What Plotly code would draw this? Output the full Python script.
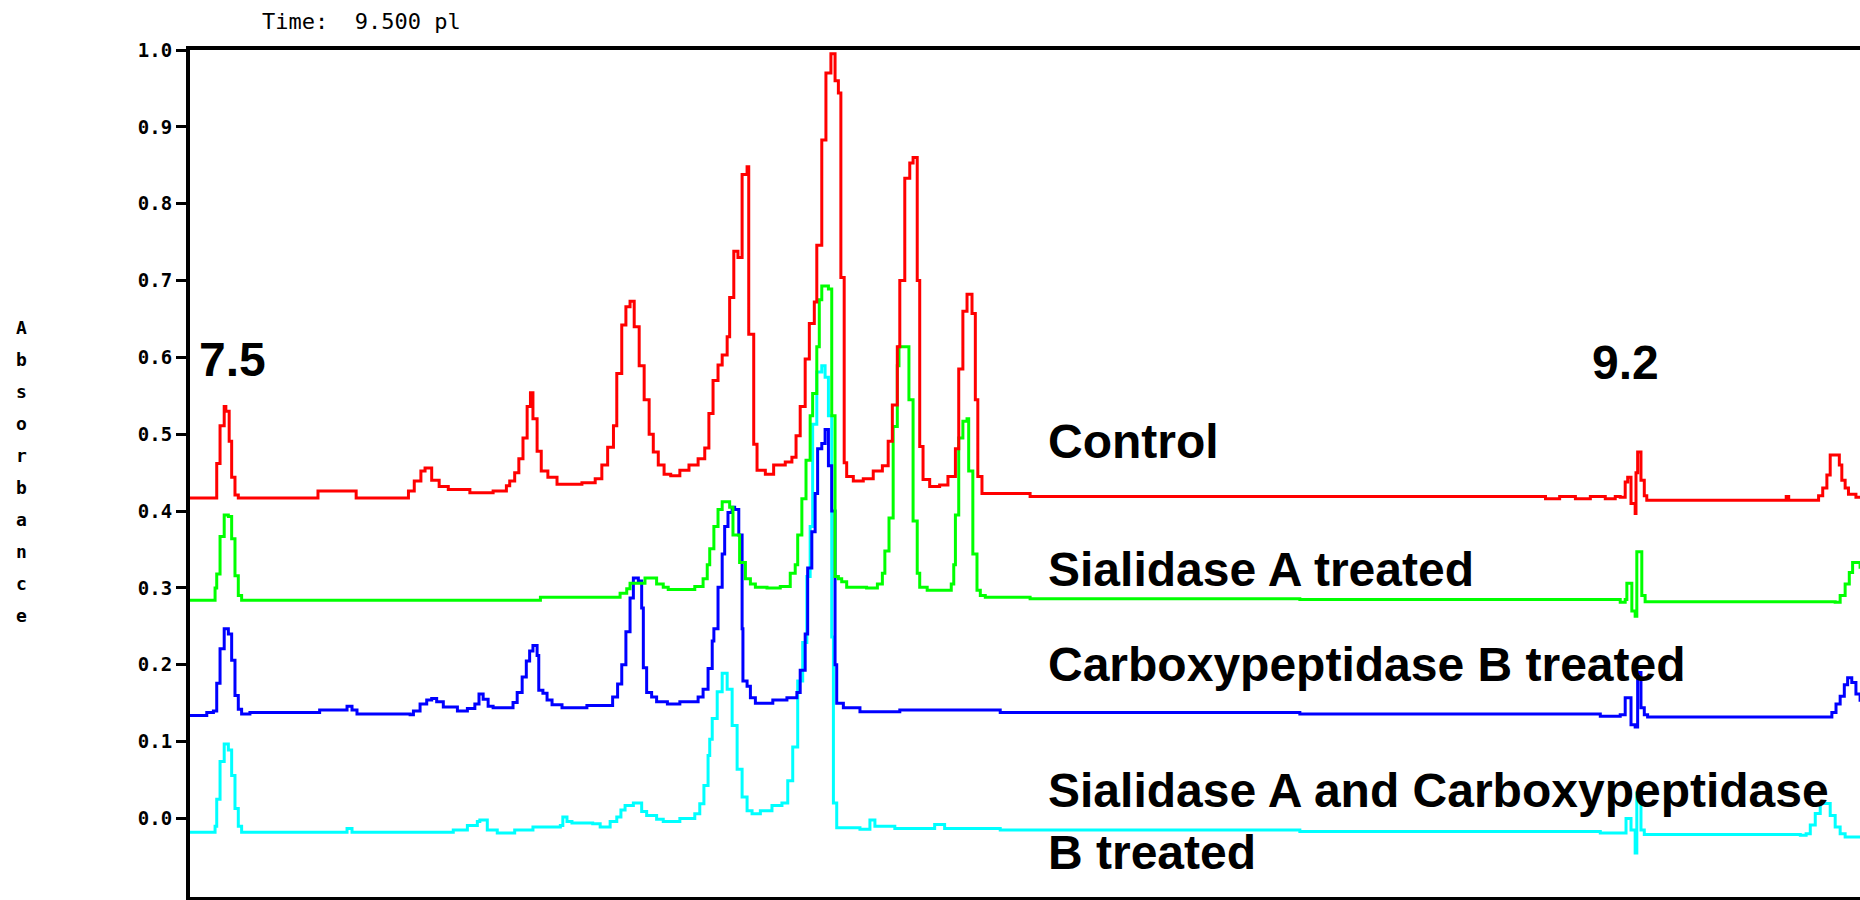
import plotly.graph_objects as go

# pI axis (calibrated by the 7.5 and 9.2 markers)
control_x = [7.455, 7.486, 7.490, 7.494, 7.499, 7.501, 7.505, 7.508, 7.512, 7.516,
             7.607, 7.612, 7.645, 7.658, 7.710, 7.721, 7.728, 7.736, 7.741, 7.749,
             7.758, 7.769, 7.795, 7.823, 7.839, 7.843, 7.849, 7.854, 7.859, 7.864,
             7.868, 7.871, 7.876, 7.881, 7.889, 7.900, 7.913, 7.930, 7.946, 7.954,
             7.961, 7.968, 7.972, 7.978, 7.983, 7.988, 7.993, 7.999, 8.005, 8.011,
             8.016, 8.022, 8.029, 8.037, 8.048, 8.059, 8.070, 8.078, 8.083, 8.088,
             8.094, 8.099, 8.105, 8.108, 8.113, 8.118, 8.123, 8.129, 8.131, 8.137,
             8.141, 8.151, 8.161, 8.175, 8.183, 8.188, 8.193, 8.199, 8.204, 8.210,
             8.213, 8.219, 8.224, 8.230, 8.235, 8.239, 8.242, 8.246, 8.249, 8.257,
             8.269, 8.281, 8.292, 8.299, 8.304, 8.310, 8.313, 8.319, 8.325, 8.329,
             8.334, 8.337, 8.341, 8.349, 8.361, 8.371, 8.380, 8.384, 8.389, 8.394,
             8.400, 8.404, 8.407, 8.412, 8.434, 8.470, 8.795, 9.060, 9.091, 9.108,
             9.127, 9.145, 9.163, 9.175, 9.181, 9.187, 9.190, 9.194, 9.199, 9.200,
             9.202, 9.206, 9.210, 9.213, 9.364, 9.381, 9.384, 9.420, 9.425, 9.430,
             9.434, 9.445, 9.448, 9.452, 9.456, 9.461, 9.465, 9.470]
control_y = [0.417, 0.417, 0.462, 0.511, 0.536, 0.530, 0.491, 0.444, 0.421, 0.417,
             0.417, 0.426, 0.426, 0.417, 0.417, 0.426, 0.439, 0.452, 0.456, 0.440,
             0.432, 0.428, 0.424, 0.426, 0.433, 0.439, 0.450, 0.468, 0.495, 0.536,
             0.554, 0.520, 0.478, 0.452, 0.444, 0.435, 0.435, 0.437, 0.442, 0.460,
             0.483, 0.511, 0.579, 0.642, 0.666, 0.673, 0.640, 0.589, 0.545, 0.500,
             0.477, 0.460, 0.448, 0.446, 0.453, 0.460, 0.468, 0.482, 0.527, 0.570,
             0.590, 0.603, 0.627, 0.678, 0.738, 0.730, 0.838, 0.848, 0.630, 0.487,
             0.453, 0.448, 0.460, 0.464, 0.470, 0.498, 0.536, 0.598, 0.644, 0.672,
             0.746, 0.883, 0.970, 0.995, 0.960, 0.944, 0.704, 0.463, 0.445, 0.439,
             0.442, 0.452, 0.459, 0.491, 0.538, 0.614, 0.700, 0.833, 0.853, 0.860,
             0.700, 0.484, 0.441, 0.432, 0.434, 0.445, 0.481, 0.585, 0.660, 0.682,
             0.657, 0.545, 0.445, 0.423, 0.423, 0.419, 0.419, 0.419, 0.416, 0.419,
             0.416, 0.419, 0.416, 0.419, 0.418, 0.438, 0.444, 0.410, 0.397, 0.450,
             0.477, 0.440, 0.420, 0.414, 0.414, 0.419, 0.414, 0.420, 0.430, 0.447,
             0.473, 0.460, 0.440, 0.430, 0.422, 0.422, 0.418, 0.418]

sialidase_x = [7.455, 7.486, 7.488, 7.490, 7.494, 7.499, 7.504, 7.508, 7.512, 7.516,
               7.520, 7.876, 7.880, 7.971, 7.976, 7.984, 7.988, 8.006, 8.014, 8.020,
               8.028, 8.034, 8.060, 8.066, 8.076, 8.081, 8.084, 8.089, 8.094, 8.099,
               8.106, 8.108, 8.112, 8.120, 8.127, 8.133, 8.139, 8.153, 8.169, 8.181,
               8.187, 8.190, 8.195, 8.200, 8.205, 8.208, 8.213, 8.216, 8.219, 8.227,
               8.231, 8.235, 8.239, 8.243, 8.249, 8.273, 8.286, 8.292, 8.295, 8.300,
               8.305, 8.310, 8.312, 8.322, 8.324, 8.329, 8.334, 8.337, 8.346, 8.370,
               8.375, 8.378, 8.380, 8.384, 8.389, 8.394, 8.396, 8.401, 8.406, 8.410,
               8.416, 8.470, 8.795, 9.181, 9.187, 9.189, 9.195, 9.199, 9.201, 9.205,
               9.207, 9.211, 9.440, 9.446, 9.452, 9.457, 9.461, 9.466, 9.470]
sialidase_y = [0.284, 0.284, 0.300, 0.318, 0.367, 0.395, 0.393, 0.364, 0.316, 0.290,
               0.284, 0.284, 0.288, 0.288, 0.293, 0.299, 0.306, 0.313, 0.313, 0.305,
               0.301, 0.298, 0.298, 0.302, 0.312, 0.330, 0.351, 0.380, 0.402, 0.412,
               0.412, 0.405, 0.369, 0.333, 0.312, 0.305, 0.301, 0.300, 0.302, 0.319,
               0.330, 0.369, 0.416, 0.466, 0.524, 0.553, 0.614, 0.675, 0.693, 0.689,
               0.524, 0.315, 0.312, 0.308, 0.301, 0.300, 0.305, 0.319, 0.348, 0.391,
               0.510, 0.589, 0.614, 0.614, 0.545, 0.387, 0.319, 0.301, 0.297, 0.297,
               0.305, 0.330, 0.395, 0.495, 0.517, 0.520, 0.452, 0.344, 0.297, 0.290,
               0.288, 0.286, 0.285, 0.2815, 0.285, 0.306, 0.270, 0.263, 0.347, 0.347,
               0.290, 0.282, 0.2815, 0.290, 0.305, 0.320, 0.333, 0.333, 0.325]

cpb_x = [7.455, 7.478, 7.486, 7.490, 7.494, 7.499, 7.504, 7.508, 7.512, 7.516,
         7.520, 7.530, 7.614, 7.642, 7.647, 7.653, 7.659, 7.723, 7.727, 7.735,
         7.743, 7.749, 7.755, 7.763, 7.780, 7.792, 7.801, 7.806, 7.811, 7.817,
         7.823, 7.843, 7.847, 7.852, 7.858, 7.863, 7.867, 7.871, 7.876, 7.878,
         7.883, 7.888, 7.894, 7.906, 7.928, 7.936, 7.964, 7.967, 7.973, 7.978,
         7.983, 7.988, 7.992, 7.998, 8.002, 8.004, 8.008, 8.014, 8.020, 8.033,
         8.048, 8.064, 8.070, 8.076, 8.082, 8.087, 8.089, 8.094, 8.099, 8.102,
         8.106, 8.111, 8.114, 8.119, 8.123, 8.124, 8.129, 8.133, 8.139, 8.148,
         8.160, 8.177, 8.189, 8.193, 8.199, 8.202, 8.207, 8.211, 8.214, 8.219,
         8.223, 8.227, 8.231, 8.235, 8.237, 8.245, 8.265, 8.313, 8.434, 8.795,
         9.157, 9.181, 9.187, 9.194, 9.199, 9.202, 9.206, 9.210, 9.214, 9.431,
         9.436, 9.441, 9.446, 9.451, 9.455, 9.460, 9.465, 9.470]
cpb_y = [0.134, 0.138, 0.140, 0.176, 0.221, 0.247, 0.240, 0.206, 0.160, 0.142,
         0.136, 0.138, 0.141, 0.141, 0.146, 0.141, 0.136, 0.135, 0.140, 0.149,
         0.154, 0.156, 0.152, 0.145, 0.140, 0.143, 0.149, 0.162, 0.155, 0.146,
         0.144, 0.144, 0.151, 0.164, 0.184, 0.205, 0.218, 0.225, 0.212, 0.167,
         0.163, 0.154, 0.148, 0.144, 0.144, 0.147, 0.147, 0.158, 0.175, 0.200,
         0.243, 0.287, 0.313, 0.309, 0.274, 0.196, 0.164, 0.158, 0.152, 0.149,
         0.152, 0.152, 0.158, 0.168, 0.195, 0.231, 0.247, 0.301, 0.344, 0.380,
         0.398, 0.405, 0.402, 0.369, 0.247, 0.179, 0.172, 0.157, 0.150, 0.150,
         0.154, 0.157, 0.164, 0.193, 0.240, 0.326, 0.373, 0.423, 0.481, 0.488,
         0.506, 0.459, 0.400, 0.200, 0.150, 0.144, 0.139, 0.141, 0.138, 0.136,
         0.133, 0.135, 0.157, 0.122, 0.119, 0.190, 0.144, 0.135, 0.132, 0.132,
         0.138, 0.149, 0.159, 0.174, 0.183, 0.177, 0.162, 0.152]

both_x = [7.455, 7.486, 7.488, 7.490, 7.494, 7.499, 7.504, 7.508, 7.512, 7.516,
          7.520, 7.642, 7.647, 7.653, 7.771, 7.775, 7.792, 7.804, 7.807, 7.816,
          7.828, 7.841, 7.849, 7.871, 7.904, 7.907, 7.912, 7.918, 7.943, 7.952,
          7.964, 7.972, 7.977, 7.982, 7.992, 8.002, 8.008, 8.020, 8.028, 8.045,
          8.048, 8.060, 8.066, 8.072, 8.077, 8.082, 8.084, 8.087, 8.093, 8.099,
          8.105, 8.111, 8.117, 8.123, 8.129, 8.135, 8.145, 8.159, 8.171, 8.178,
          8.184, 8.190, 8.196, 8.201, 8.205, 8.208, 8.213, 8.219, 8.223, 8.227,
          8.231, 8.233, 8.237, 8.265, 8.277, 8.283, 8.307, 8.355, 8.367, 8.434,
          8.795, 9.157, 9.181, 9.188, 9.194, 9.199, 9.201, 9.206, 9.210, 9.398,
          9.405, 9.410, 9.416, 9.422, 9.430, 9.434, 9.440, 9.446, 9.452, 9.470]
both_y = [-0.018, -0.018, -0.010, 0.025, 0.074, 0.097, 0.089, 0.056, 0.013, -0.010,
          -0.018, -0.018, -0.013, -0.018, -0.018, -0.015, -0.009, -0.004, -0.002, -0.015,
          -0.019, -0.019, -0.015, -0.011, -0.009, 0.002, -0.004, -0.006, -0.007, -0.011,
          -0.004, 0.002, 0.011, 0.017, 0.020, 0.009, 0.004, -0.001, -0.004, -0.004,
          0.000, 0.000, 0.006, 0.019, 0.043, 0.082, 0.103, 0.130, 0.165, 0.189,
          0.168, 0.121, 0.064, 0.028, 0.010, 0.006, 0.010, 0.017, 0.020, 0.049,
          0.093, 0.179, 0.229, 0.315, 0.380, 0.513, 0.581, 0.589, 0.574, 0.524,
          0.236, 0.020, -0.012, -0.014, -0.002, -0.010, -0.013, -0.008, -0.013, -0.015,
          -0.017, -0.019, -0.019, 0.000, -0.015, -0.045, 0.033, -0.015, -0.021, -0.022,
          -0.020, -0.0085, 0.0066, 0.0195, 0.0195, 0.004, -0.011, -0.020, -0.024, -0.024]

tick_vals = [0.0, 0.1, 0.2, 0.3, 0.4, 0.5, 0.6, 0.7, 0.8, 0.9, 1.0]
tick_text = ["0.0", "0.1", "0.2", "0.3", "0.4", "0.5", "0.6", "0.7", "0.8", "0.9", "1.0"]

series = [
    ("Sialidase A and Carboxypeptidase B treated", both_x, both_y, "#00ffff"),
    ("Carboxypeptidase B treated", cpb_x, cpb_y, "#0000ff"),
    ("Sialidase A treated", sialidase_x, sialidase_y, "#00ff00"),
    ("Control", control_x, control_y, "#ff0000"),
]

fig = go.Figure()
for name, xs, ys, col in series:
    fig.add_trace(go.Scatter(x=xs, y=ys, mode="lines", name=name,
                             line=dict(color=col, width=3, shape="hv"),
                             hoverinfo="skip"))

big = dict(family="Liberation Sans, Arial, sans-serif", size=48, color="black", weight="bold")
labels = [
    ("Control", 0.490),
    ("Sialidase A treated", 0.324),
    ("Carboxypeptidase B treated", 0.200),
    ("Sialidase A and Carboxypeptidase<br>B treated", -0.004),
]
for txt, yv in labels:
    fig.add_annotation(x=8.489, y=yv, xref="x", yref="y", text=txt, showarrow=False,
                       xanchor="left", yanchor="middle", align="left", font=big)
fig.add_annotation(x=7.466, y=0.597, xref="x", yref="y", text="7.5", showarrow=False,
                   xanchor="left", yanchor="middle", font=big)
fig.add_annotation(x=9.145, y=0.593, xref="x", yref="y", text="9.2", showarrow=False,
                   xanchor="left", yanchor="middle", font=big)

pix = dict(family="DejaVu Sans Mono, monospace", size=22, color="black")
fig.add_annotation(x=0.1027, y=1.034, xref="paper", yref="paper",
                   text="Time:\u00a0\u00a09.500\u00a0pl", showarrow=False,
                   xanchor="center", yanchor="middle", font=pix)
letters = "<br>".join('<span style="font-size:18px;font-weight:bold">%s</span>' % c
                      for c in "Absorbance")
fig.add_annotation(x=-0.1011, y=0.502, xref="paper", yref="paper", text=letters,
                   showarrow=False, xanchor="center", yanchor="middle",
                   font=dict(family="DejaVu Sans Mono, monospace", size=24.6, color="black"))

fig.update_layout(
    width=1860, height=900,
    margin=dict(l=190, r=0, t=50, b=3),
    paper_bgcolor="white", plot_bgcolor="white",
    showlegend=False,
    xaxis=dict(range=[7.4578, 9.4699], showgrid=False, zeroline=False,
               showticklabels=False, ticks="", showline=True, linecolor="black",
               linewidth=4, mirror=True),
    yaxis=dict(range=[-0.1022, 1.0], showgrid=False, zeroline=False,
               tickvals=tick_vals, ticktext=tick_text, ticks="outside", ticklen=10,
               tickwidth=3, tickcolor="black", showline=True, linecolor="black",
               linewidth=4, tickfont=dict(family="DejaVu Sans Mono, monospace", size=19,
                                          color="black", weight="bold")),
)

fig.write_html("out.html", config={"displayModeBar": False},
               post_script="document.body.style.margin='0';document.body.style.padding='0';"
                           "document.body.style.overflow='hidden';")
